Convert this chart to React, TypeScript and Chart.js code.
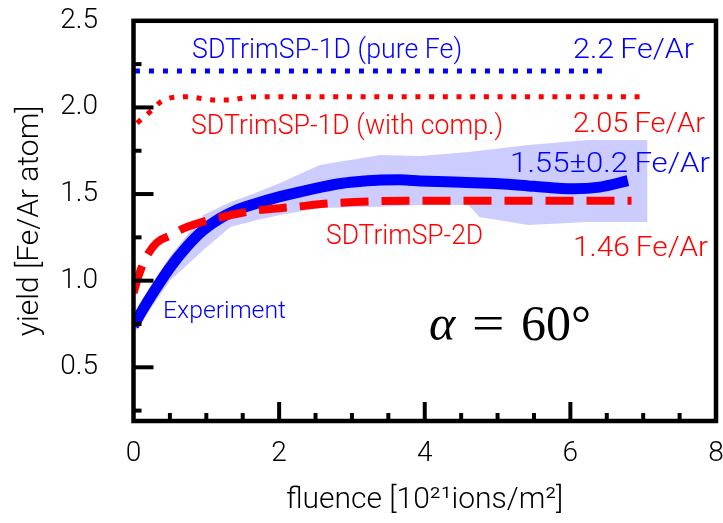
import React, { useEffect, useRef } from "react";
import { Chart, registerables } from "chart.js";

Chart.register(...registerables);

// ---------- data ----------
const EXP_X = [0, 0.13, 0.27, 0.5, 0.73, 0.955, 1.19, 1.4, 1.64, 2.01, 2.42, 2.8, 3.1, 3.39, 3.66, 3.94, 4.5, 5.03, 5.5, 6.04, 6.4, 6.79];
const EXP_Y = [0.74, 0.835, 0.93, 1.075, 1.195, 1.29, 1.36, 1.405, 1.44, 1.485, 1.525, 1.558, 1.572, 1.581, 1.582, 1.576, 1.568, 1.56, 1.545, 1.53, 1.54, 1.577];

const BAND_X = [0, 0.27, 0.5, 0.96, 1.33, 1.64, 2.01, 2.56, 3.39, 3.94, 4.6, 4.75, 5.42, 6.24, 7.06];
const BAND_UPPER = [0.78, 0.99, 1.14, 1.379, 1.454, 1.5, 1.564, 1.668, 1.726, 1.72, 1.743, 1.75, 1.783, 1.812, 1.812];
const BAND_LOWER = [0.69, 0.86, 1.0, 1.177, 1.31, 1.345, 1.379, 1.42, 1.426, 1.437, 1.437, 1.368, 1.322, 1.339, 1.339];

const SIM2D_X = [0, 0.08, 0.18, 0.32, 0.5, 0.68, 1.05, 1.22, 1.63, 2.19, 2.8, 3.94, 5.0, 6.84];
const SIM2D_Y = [0.93, 1.04, 1.14, 1.22, 1.26, 1.3, 1.351, 1.368, 1.402, 1.425, 1.449, 1.462, 1.462, 1.462];

const SIM1D_COMP_X = [0.05, 0.24, 0.39, 0.57, 0.75, 0.91, 1.09, 1.3, 1.49, 1.7, 6.96];
const SIM1D_COMP_Y = [1.91, 1.98, 2.037, 2.059, 2.062, 2.053, 2.043, 2.043, 2.053, 2.062, 2.062];

const SIM1D_PURE_X = [0.02, 6.49];
const SIM1D_PURE_Y = [2.21, 2.21];

const X_TICKS = [0, 2, 4, 6, 8];
const Y_TICKS = [0.5, 1.0, 1.5, 2.0, 2.5];
const X_MAJOR_INNER = [2, 4, 6];
const X_MINOR = [0.5, 1, 1.5, 2.5, 3, 3.5, 4.5, 5, 5.5, 6.5, 7, 7.5];
const Y_MAJOR_INNER = [0.5, 1.0, 1.5, 2.0];
const Y_MINOR = [0.25, 0.75, 1.25, 1.75, 2.25];

// text labels anchored in data coordinates (left, right, baseline)
const LABELS = [
  { text: "SDTrimSP-1D (pure Fe)", color: "blue", x0: 0.804, x1: 4.513, y: 2.285, size: 28 },
  { text: "2.2\u2009Fe/Ar", color: "blue", x0: 6.037, x1: 7.699, y: 2.285, size: 28 },
  { text: "SDTrimSP-1D (with comp.)", color: "red", x0: 0.79, x1: 5.076, y: 1.847, size: 28 },
  { text: "2.05\u2009Fe/Ar", color: "red", x0: 6.037, x1: 7.85, y: 1.858, size: 28 },
  { text: "1.55\u00b10.2\u2009Fe/Ar", color: "blue", x0: 5.172, x1: 7.919, y: 1.628, size: 28 },
  { text: "SDTrimSP-2D", color: "red", x0: 2.644, x1: 4.801, y: 1.212, size: 28 },
  { text: "1.46\u2009Fe/Ar", color: "red", x0: 6.037, x1: 7.892, y: 1.143, size: 28 },
  { text: "Experiment", color: "blue", x0: 0.405, x1: 2.095, y: 0.785, size: 24 },
];
const ANGLE_LABEL = { x0: 4.059, y: 0.658 };

const X_TITLE = "fluence [10\u00b2\u00b9ions/m\u00b2]";
const Y_TITLE = "yield [Fe/Ar atom]";

const BLUE = "#0000ff";
const RED = "#ff0000";
const SANS = "Roboto, 'Liberation Sans', Arial, sans-serif";
const SERIF = "'Liberation Serif', 'Times New Roman', serif";
const WEIGHT = "300";

const pts = (xs: number[], ys: number[]) => xs.map((x, i) => ({ x, y: ys[i] }));

export default function App() {
  const ref = useRef<HTMLCanvasElement>(null);

  useEffect(() => {
    const canvas = ref.current;
    if (!canvas) return;

    const decor = {
      id: "decor",
      afterDatasetsDraw(chart: any) {
        const { ctx, chartArea: a, scales } = chart;
        const xs = scales.x;
        const ys = scales.y;
        ctx.save();
        ctx.strokeStyle = "#000";
        ctx.lineCap = "butt";
        ctx.lineWidth = 4;
        const tick = (x1: number, y1: number, x2: number, y2: number) => {
          ctx.beginPath();
          ctx.moveTo(x1, y1);
          ctx.lineTo(x2, y2);
          ctx.stroke();
        };
        Y_MAJOR_INNER.forEach((v) => {
          const p = ys.getPixelForValue(v);
          tick(a.left, p, a.left + 20, p);
        });
        Y_MINOR.forEach((v) => {
          const p = ys.getPixelForValue(v);
          tick(a.left, p, a.left + 8, p);
        });
        X_MAJOR_INNER.forEach((v) => {
          const p = xs.getPixelForValue(v);
          tick(p, a.bottom, p, a.bottom - 19);
        });
        X_MINOR.forEach((v) => {
          const p = xs.getPixelForValue(v);
          tick(p, a.bottom, p, a.bottom - 8);
        });
        ctx.lineWidth = 4.5;
        ctx.strokeRect(a.left, a.top, a.right - a.left, a.bottom - a.top);

        // text labels
        ctx.textAlign = "left";
        ctx.textBaseline = "alphabetic";
        LABELS.forEach((l) => {
          const left = xs.getPixelForValue(l.x0);
          const right = xs.getPixelForValue(l.x1);
          const base = ys.getPixelForValue(l.y);
          ctx.font = `${WEIGHT} ${l.size}px ${SANS}`;
          ctx.fillStyle = l.color === "blue" ? BLUE : RED;
          const w = ctx.measureText(l.text).width;
          ctx.save();
          ctx.translate(left, base);
          ctx.scale((right - left) / w, 1);
          ctx.fillText(l.text, 0, 0);
          ctx.restore();
        });

        // alpha = 60 deg
        const ax = xs.getPixelForValue(ANGLE_LABEL.x0);
        const ay = ys.getPixelForValue(ANGLE_LABEL.y);
        ctx.fillStyle = "#000";
        ctx.font = `italic 50px ${SERIF}`;
        ctx.fillText("\u03b1", ax, ay);
        ctx.font = `50px ${SERIF}`;
        ctx.save();
        ctx.translate(ax + 43, ay);
        ctx.scale(1.15, 1);
        ctx.fillText("=", 0, 0);
        ctx.restore();
        ctx.fillText("60\u00b0", ax + 92, ay);
        ctx.restore();
      },
    };

    const chart = new Chart(canvas, {
      type: "line",
      data: {
        datasets: [
          {
            data: pts(SIM2D_X, SIM2D_Y),
            borderColor: RED,
            borderWidth: 8,
            borderDash: [28, 13],
            borderCapStyle: "butt",
            cubicInterpolationMode: "monotone",
            fill: false,
            pointRadius: 0,
          },
          {
            data: pts(EXP_X, EXP_Y),
            borderColor: BLUE,
            borderWidth: 11,
            borderCapStyle: "butt",
            cubicInterpolationMode: "monotone",
            fill: false,
            pointRadius: 0,
          },
          {
            data: pts(SIM1D_COMP_X, SIM1D_COMP_Y),
            borderColor: RED,
            borderWidth: 5,
            borderDash: [5, 8.7],
            borderCapStyle: "butt",
            cubicInterpolationMode: "monotone",
            fill: false,
            pointRadius: 0,
          },
          {
            data: pts(SIM1D_PURE_X, SIM1D_PURE_Y),
            borderColor: BLUE,
            borderWidth: 5,
            borderDash: [5, 9],
            borderCapStyle: "butt",
            fill: false,
            pointRadius: 0,
          },
          {
            data: pts(BAND_X, BAND_UPPER),
            borderColor: "rgba(0,0,0,0)",
            borderWidth: 0,
            backgroundColor: "rgba(0,0,255,0.2)",
            fill: "+1",
            tension: 0,
            pointRadius: 0,
          },
          {
            data: pts(BAND_X, BAND_LOWER),
            borderColor: "rgba(0,0,0,0)",
            borderWidth: 0,
            fill: false,
            tension: 0,
            pointRadius: 0,
          },
        ],
      },
      options: {
        responsive: false,
        animation: false,
        events: [],
        layout: { padding: { left: 0, top: 20.8, right: 7, bottom: 0 } },
        plugins: { legend: { display: false }, tooltip: { enabled: false } },
        elements: { point: { radius: 0 } },
        scales: {
          x: {
            type: "linear",
            min: 0,
            max: 8,
            grid: { display: false, drawTicks: false },
            border: { display: false },
            afterBuildTicks: (s: any) => {
              s.ticks = X_TICKS.map((v) => ({ value: v }));
            },
            afterFit: (s: any) => {
              s.height = 102;
              s.paddingLeft = 0;
              s.paddingRight = 0;
            },
            ticks: {
              padding: 16,
              color: "#000",
              font: { family: SANS, size: 28, weight: WEIGHT },
              maxRotation: 0,
              autoSkip: false,
              callback: (v: any) => String(v),
            },
            title: {
              display: true,
              text: X_TITLE,
              color: "#000",
              font: { family: SANS, size: 30, weight: WEIGHT },
              padding: { top: 0, bottom: 5 },
            },
          },
          y: {
            type: "linear",
            min: 0.19,
            max: 2.5,
            grid: { display: false, drawTicks: false },
            border: { display: false },
            afterBuildTicks: (s: any) => {
              s.ticks = Y_TICKS.map((v) => ({ value: v }));
            },
            afterFit: (s: any) => {
              s.width = 133.5;
              s.paddingTop = 0;
              s.paddingBottom = 0;
            },
            ticks: {
              padding: 35.5,
              color: "#000",
              font: { family: SANS, size: 28, weight: WEIGHT },
              autoSkip: false,
              callback: (v: any) => Number(v).toFixed(1),
            },
            title: {
              display: true,
              text: Y_TITLE,
              color: "#000",
              font: { family: SANS, size: 30, weight: WEIGHT },
              padding: { top: 12, bottom: 0 },
            },
          },
        },
      },
      plugins: [decor],
    } as any);

    return () => chart.destroy();
  }, []);

  return (
    <div style={{ position: "fixed", left: 0, top: 0, width: 723, height: 523, background: "#fff" }}>
      <canvas ref={ref} width={723} height={523} style={{ display: "block" }} />
    </div>
  );
}
